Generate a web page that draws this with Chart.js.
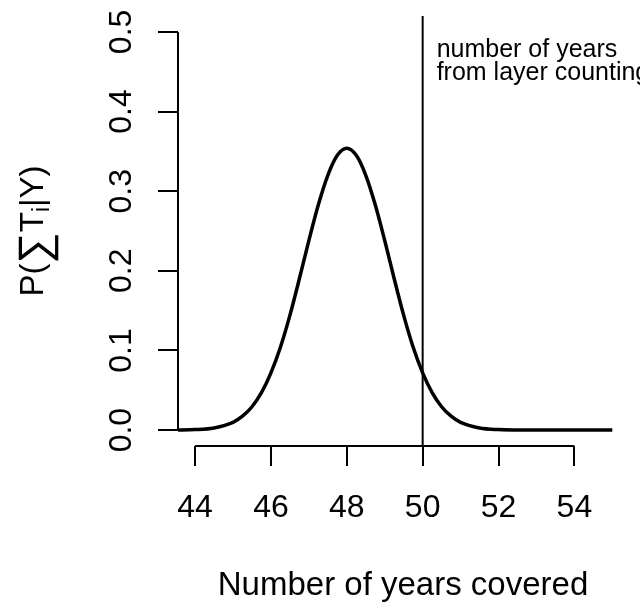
<!DOCTYPE html>
<html>
<head>
<meta charset="utf-8">
<script src="https://cdn.jsdelivr.net/npm/chart.js@4/dist/chart.umd.min.js"></script>
<style>
  html, body { margin: 0; padding: 0; background: #fff; }
  #wrap { width: 640px; height: 604px; }
</style>
</head>
<body>
<div id="wrap"><canvas id="chart"></canvas></div>
<script>
// posterior of the summed layer durations, read at quarter-year steps
const years = [43.5, 44, 44.5, 45, 45.25, 45.5, 45.75, 46, 46.25, 46.5, 46.75, 47, 47.25, 47.5, 47.75,
  48, 48.25, 48.5, 48.75, 49, 49.25, 49.5, 49.75, 50, 50.25, 50.5, 50.75, 51, 51.5, 52, 52.5, 53, 54, 55];
const probability = [0.0001, 0.0006, 0.0027, 0.0097, 0.0174, 0.0293, 0.047, 0.0719, 0.104, 0.144, 0.19, 0.238, 0.283, 0.32, 0.345,
  0.354, 0.345, 0.32, 0.283, 0.238, 0.19, 0.144, 0.104, 0.0719, 0.047, 0.0293, 0.0174, 0.0097, 0.0027, 0.0006, 0.0001, 0, 0, 0];

const xTicks = [44, 46, 48, 50, 52, 54];
const yTicks = [0, 0.1, 0.2, 0.3, 0.4, 0.5];
const layerCountYears = 50;
const noteLines = ['number of years', 'from layer counting'];
const xTitle = 'Number of years covered';

const FONT = '"Liberation Sans", Arial, Helvetica, sans-serif';

// base-graphics style axes, reference line and labels
const baseAxes = {
  id: 'baseAxes',
  afterDraw(chart) {
    const { ctx, chartArea, scales } = chart;
    const xs = scales.x, ys = scales.y;
    const tick = 20;
    ctx.save();
    ctx.strokeStyle = '#000';
    ctx.fillStyle = '#000';
    ctx.lineWidth = 2;
    ctx.lineCap = 'butt';

    // x axis
    const axisY = chartArea.bottom;
    ctx.beginPath();
    ctx.moveTo(xs.getPixelForValue(xTicks[0]), axisY);
    ctx.lineTo(xs.getPixelForValue(xTicks[xTicks.length - 1]), axisY);
    xTicks.forEach(v => {
      const px = Math.round(xs.getPixelForValue(v));
      ctx.moveTo(px, axisY);
      ctx.lineTo(px, axisY + tick);
    });
    ctx.stroke();
    ctx.font = '32px ' + FONT;
    ctx.textAlign = 'center';
    ctx.textBaseline = 'alphabetic';
    xTicks.forEach(v => ctx.fillText(String(v), xs.getPixelForValue(v), axisY + 71));

    // y axis
    const axisX = chartArea.left;
    ctx.beginPath();
    ctx.moveTo(axisX, ys.getPixelForValue(yTicks[0]));
    ctx.lineTo(axisX, ys.getPixelForValue(yTicks[yTicks.length - 1]));
    yTicks.forEach(v => {
      const py = Math.round(ys.getPixelForValue(v));
      ctx.moveTo(axisX, py);
      ctx.lineTo(axisX - tick, py);
    });
    ctx.stroke();
    yTicks.forEach(v => {
      ctx.save();
      ctx.translate(axisX - 47, ys.getPixelForValue(v));
      ctx.rotate(-Math.PI / 2);
      ctx.fillText(v.toFixed(1), 0, 0);
      ctx.restore();
    });

    // vertical reference at the layer-count estimate
    const refX = xs.getPixelForValue(layerCountYears);
    ctx.beginPath();
    ctx.moveTo(refX, chartArea.top);
    ctx.lineTo(refX, chartArea.bottom);
    ctx.stroke();

    ctx.font = '25px ' + FONT;
    ctx.textAlign = 'left';
    noteLines.forEach((s, i) => ctx.fillText(s, refX + 14, 57 + i * 23));

    // axis titles
    ctx.font = '33px ' + FONT;
    ctx.textAlign = 'center';
    ctx.fillText(xTitle, 403, 595);

    // P(sum T_i | Y), built piece by piece
    const midY = (chartArea.top + chartArea.bottom) / 2;
    ctx.save();
    ctx.translate(43, midY);
    ctx.rotate(-Math.PI / 2);
    ctx.textAlign = 'left';
    const parts = [
      { t: 'P(', size: 33, dy: 0 },
      { t: '\u2211', size: 44, dy: 6 },
      { t: 'T', size: 33, dy: 0 },
      { t: 'i', size: 23, dy: 6 },
      { t: '|Y)', size: 33, dy: 0 }
    ];
    let total = 0;
    parts.forEach(p => { ctx.font = p.size + 'px ' + FONT; p.w = ctx.measureText(p.t).width; total += p.w; });
    let cx = -total / 2;
    parts.forEach(p => {
      ctx.font = p.size + 'px ' + FONT;
      ctx.fillText(p.t, cx, p.dy);
      cx += p.w;
    });
    ctx.restore();

    ctx.restore();
  }
};

new Chart(document.getElementById('chart'), {
  type: 'line',
  data: {
    datasets: [{
      data: years.map((x, i) => ({ x, y: probability[i] })),
      borderColor: '#000',
      borderWidth: 3.5,
      pointRadius: 0,
      tension: 0.4,
      cubicInterpolationMode: 'monotone',
      fill: false
    }]
  },
  options: {
    responsive: true,
    maintainAspectRatio: false,
    animation: false,
    events: [],
    layout: { padding: { left: 178, right: 0, top: 16, bottom: 158 } },
    plugins: { legend: { display: false }, tooltip: { enabled: false } },
    scales: {
      x: { type: 'linear', min: 43.55, max: 55.73, display: false },
      y: { type: 'linear', min: -0.02, max: 0.52, display: false }
    }
  },
  plugins: [baseAxes]
});
</script>
</body>
</html>
